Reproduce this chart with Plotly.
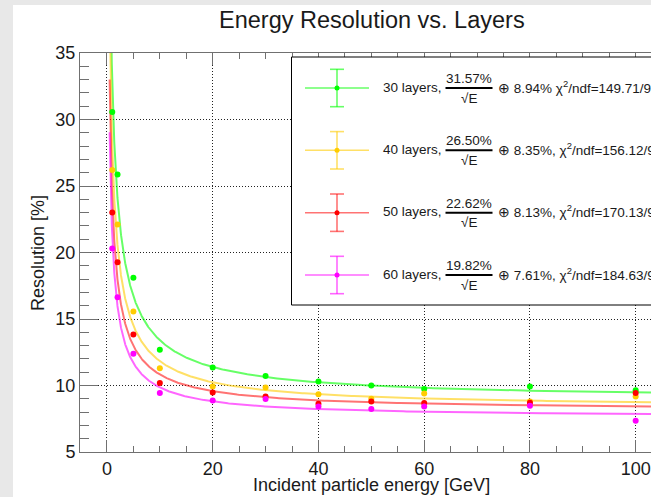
import numpy as np
import plotly.graph_objects as go

# ---------------- data ----------------
energy = [1, 2, 5, 10, 20, 30, 40, 50, 60, 80, 100]
res_30 = [30.57, 25.87, 18.10, 12.68, 11.35, 10.71, 10.30, 10.00, 9.73, 9.93, 9.65]
res_40 = [26.20, 22.10, 15.56, 11.30, 9.93, 9.85, 9.35, 9.00, 9.40, 8.80, 9.18]
res_50 = [23.00, 19.26, 13.83, 10.18, 9.48, 9.18, 8.63, 8.80, 8.68, 8.70, 9.43]
res_60 = [20.30, 16.63, 12.38, 9.43, 8.87, 8.98, 8.43, 8.23, 8.43, 8.48, 7.35]

layers = ["30 layers", "40 layers", "50 layers", "60 layers"]
stoch = [31.57, 26.50, 22.62, 19.82]     # stochastic term [%]
const = [8.94, 8.35, 8.13, 7.61]         # constant term [%]
chi2 = [149.71, 156.12, 170.13, 184.63]
ndf = [9, 9, 9, 9]
sep = ["", ",", ",", ","]

x_ticks = [0, 20, 40, 60, 80, 100]
y_ticks = [5, 10, 15, 20, 25, 30, 35]

colors = ["#00ff00", "#ffcc00", "#ff0000", "#ff00ff"]
fit_colors = ["rgba(0,255,0,0.6)", "rgba(255,204,0,0.6)",
              "rgba(255,0,0,0.55)", "rgba(255,0,255,0.6)"]
series = [res_30, res_40, res_50, res_60]

# ---------------- geometry ----------------
W, H = 651, 497
L, R, T, B = 80, 0, 53, 45
pw = W - L - R
ph = H - T - B
FONT = "Liberation Sans, Arial, Helvetica, sans-serif"
TXT = "#1a1a1a"
AX = "#707070"


def xp(px):
    return (px - L) / pw


def yp(py):
    return (H - B - py) / ph


fig = go.Figure()

# fit curves: sigma/E = a/sqrt(E) (+) b
e_fit = np.geomspace(0.5, 103, 500)
for a, b, fc in zip(stoch, const, fit_colors):
    fig.add_trace(go.Scatter(x=e_fit, y=np.sqrt(a ** 2 / e_fit + b ** 2),
                             mode="lines", line=dict(color=fc, width=2),
                             hoverinfo="skip", showlegend=False))

for vals, c, name in zip(series, colors, layers):
    fig.add_trace(go.Scatter(x=energy, y=vals, mode="markers", name=name,
                             marker=dict(color=c, size=6), showlegend=False))

shapes = []
annotations = []

# white canvas behind everything
shapes.append(dict(type="rect", xref="paper", yref="paper", layer="below",
                   x0=xp(13), x1=xp(W + 20), y0=yp(5), y1=yp(H + 20),
                   fillcolor="white", line=dict(width=0)))

# legend box
shapes.append(dict(type="rect", xref="paper", yref="paper",
                   x0=xp(291.5), x1=xp(W + 30), y0=yp(57), y1=yp(305),
                   fillcolor="white", line=dict(color="black", width=1)))

LF = 13.5
row_y = [88, 150.3, 212.7, 275]
for i in range(4):
    cy = row_y[i]
    lc = fit_colors[i]
    shapes.append(dict(type="line", xref="paper", yref="paper",
                       x0=xp(305), x1=xp(369), y0=yp(cy), y1=yp(cy),
                       line=dict(color=lc, width=1.6)))
    shapes.append(dict(type="line", xref="paper", yref="paper",
                       x0=xp(337), x1=xp(337), y0=yp(cy - 18.7), y1=yp(cy + 18.7),
                       line=dict(color=lc, width=1.6)))
    for dy in (-18.7, 18.7):
        shapes.append(dict(type="line", xref="paper", yref="paper",
                           x0=xp(330), x1=xp(344), y0=yp(cy + dy), y1=yp(cy + dy),
                           line=dict(color=lc, width=1.6)))
    shapes.append(dict(type="circle", xref="paper", yref="paper",
                       x0=xp(334.5), x1=xp(339.5), y0=yp(cy - 2.5), y1=yp(cy + 2.5),
                       fillcolor=colors[i], line=dict(width=0)))
    annotations.append(dict(xref="paper", yref="paper", x=xp(381), y=yp(cy - 1),
                            xanchor="left", yanchor="middle", showarrow=False,
                            text=layers[i] + ",",
                            font=dict(family=FONT, size=LF, color=TXT)))
    annotations.append(dict(xref="paper", yref="paper", x=xp(469), y=yp(cy - 9.5),
                            xanchor="center", yanchor="middle", showarrow=False,
                            text=f"{stoch[i]:.2f}%",
                            font=dict(family=FONT, size=LF, color=TXT)))
    shapes.append(dict(type="line", xref="paper", yref="paper",
                       x0=xp(445.5), x1=xp(492.5), y0=yp(cy), y1=yp(cy),
                       line=dict(color="black", width=2)))
    annotations.append(dict(xref="paper", yref="paper", x=xp(469), y=yp(cy + 10),
                            xanchor="center", yanchor="middle", showarrow=False,
                            text="√E",
                            font=dict(family=FONT, size=LF, color=TXT)))
    annotations.append(dict(xref="paper", yref="paper", x=xp(496), y=yp(cy - 1.5),
                            xanchor="left", yanchor="middle", showarrow=False,
                            text=f"⊕ {const[i]:.2f}%{sep[i]} χ<sup>2</sup>/ndf={chi2[i]:.2f}/{ndf[i]}",
                            font=dict(family=FONT, size=LF, color=TXT)))

# title and axis titles
annotations.append(dict(xref="paper", yref="paper", x=xp(371.5), y=yp(20),
                        xanchor="center", yanchor="middle", showarrow=False,
                        text="Energy Resolution vs. Layers",
                        font=dict(family=FONT, size=23.5, color=TXT)))
annotations.append(dict(xref="paper", yref="paper", x=xp(371.5), y=yp(484.5),
                        xanchor="center", yanchor="middle", showarrow=False,
                        text="Incident particle energy [GeV]",
                        font=dict(family=FONT, size=18, color=TXT)))
annotations.append(dict(xref="paper", yref="paper", x=xp(38), y=yp(253),
                        xanchor="center", yanchor="middle", showarrow=False,
                        textangle=-90, text="Resolution [%]",
                        font=dict(family=FONT, size=18, color=TXT)))

grid = dict(showgrid=True, gridcolor="#222222", gridwidth=1, griddash="1px,2px")

fig.update_layout(
    width=W, height=H,
    margin=dict(l=L, r=R, t=T, b=B, pad=0),
    paper_bgcolor="#e8e8e8",
    plot_bgcolor="rgba(0,0,0,0)",
    shapes=shapes,
    annotations=annotations,
    showlegend=False,
    xaxis=dict(range=[-5.1, 102.9], tickmode="array", tickvals=x_ticks,
               ticktext=[str(v) for v in x_ticks],
               ticks="inside", ticklen=12, tickcolor=AX, tickwidth=1,
               showline=True, linecolor=AX, linewidth=1, mirror="ticks",
               zeroline=False,
               minor=dict(dtick=5, tick0=0, ticks="inside", ticklen=6,
                          tickcolor=AX, showgrid=False),
               tickfont=dict(family=FONT, size=18, color=TXT), **grid),
    yaxis=dict(range=[5, 35], tickmode="array", tickvals=y_ticks,
               ticktext=[str(v) for v in y_ticks],
               ticks="inside", ticklen=18, tickcolor=AX, tickwidth=1,
               showline=True, linecolor=AX, linewidth=1, mirror=False,
               zeroline=False,
               minor=dict(dtick=1, tick0=5, ticks="inside", ticklen=9,
                          tickcolor=AX, showgrid=False),
               tickfont=dict(family=FONT, size=18, color=TXT), **grid),
)

fig.write_html(
    "out.html",
    config={"displayModeBar": False},
    post_script="document.body.style.margin='0';"
                "document.body.style.padding='0';"
                "document.body.style.overflow='hidden';"
                "document.documentElement.style.overflow='hidden';",
)
